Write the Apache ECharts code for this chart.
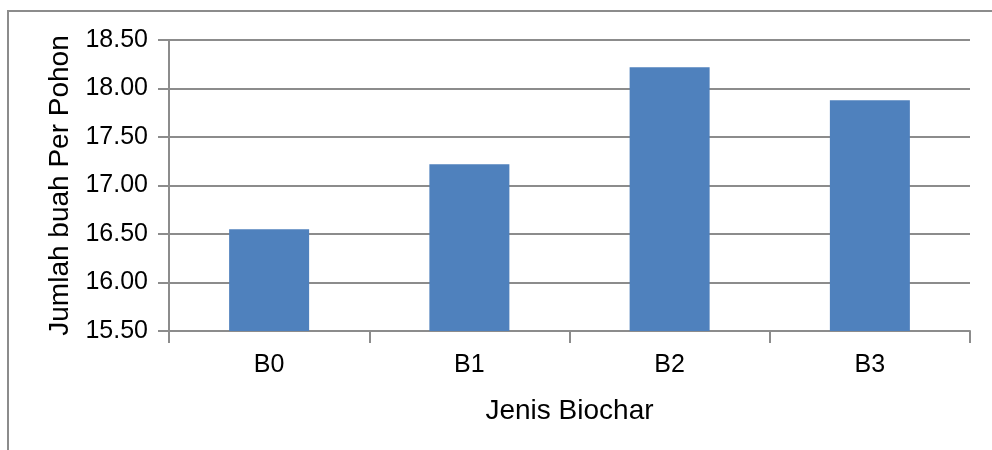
<!DOCTYPE html>
<html>
<head>
<meta charset="utf-8">
<script src="https://cdn.jsdelivr.net/npm/echarts@6/dist/echarts.min.js"></script>
<style>
  html, body { margin: 0; padding: 0; background: #fff; }
  #chart { width: 992px; height: 450px; }
</style>
</head>
<body>
<div id="chart"></div>
<script>
// Fruit count per tree for each biochar type
const categories = ['B0', 'B1', 'B2', 'B3'];
const fruitPerTree = [16.55, 17.22, 18.22, 17.88];
const yMin = 15.5;
const yMax = 18.5;
const yStep = 0.5;

const gray = '#8c8c8c';
const font = '"Liberation Sans", Arial, Helvetica, sans-serif';

const chart = echarts.init(document.getElementById('chart'), null, { renderer: 'canvas' });
chart.setOption({
  animation: false,
  backgroundColor: '#fff',
  grid: { left: 169, right: 22, top: 40, bottom: 119, containLabel: false },
  graphic: [{
    type: 'polyline',
    shape: { points: [[8, 450], [8, 11], [992, 11]] },
    style: { stroke: gray, lineWidth: 2, fill: null },
    silent: true
  }],
  xAxis: {
    type: 'category',
    data: categories,
    boundaryGap: true,
    name: 'Jenis Biochar',
    nameLocation: 'middle',
    nameGap: 66,
    nameTextStyle: { fontFamily: font, fontSize: 28, color: '#000' },
    axisLine: { show: true, lineStyle: { color: gray, width: 2 } },
    axisTick: { show: true, alignWithLabel: false, length: 12, lineStyle: { color: gray, width: 2 } },
    axisLabel: { fontFamily: font, fontSize: 25, color: '#000', margin: 22 }
  },
  yAxis: {
    type: 'value',
    min: yMin,
    max: yMax,
    interval: yStep,
    name: 'Jumlah buah Per Pohon',
    nameLocation: 'middle',
    nameGap: 95,
    nameTextStyle: { fontFamily: font, fontSize: 28, color: '#000' },
    axisLine: { show: true, lineStyle: { color: gray, width: 2 } },
    axisTick: { show: true, length: 11, lineStyle: { color: gray, width: 2 } },
    axisLabel: {
      fontFamily: font, fontSize: 25, color: '#000', margin: 21,
      formatter: v => v.toFixed(2)
    },
    splitLine: { show: true, lineStyle: { color: gray, width: 2 } }
  },
  series: [{
    type: 'bar',
    data: fruitPerTree,
    barWidth: 80,
    itemStyle: { color: '#4f81bd' },
    silent: true
  }]
});
</script>
</body>
</html>
